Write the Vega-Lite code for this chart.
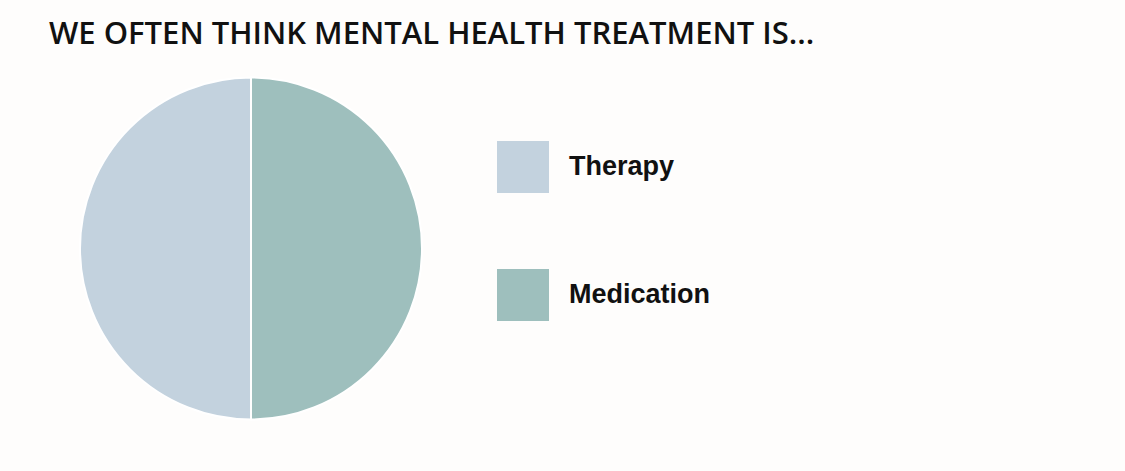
{
  "$schema": "https://vega.github.io/schema/vega-lite/v6.json",
  "autosize": "none",
  "width": 502,
  "height": 351,
  "padding": {"left": 0, "top": 73, "right": 623, "bottom": 47},
  "background": "#fefdfc",
  "title": {
    "text": "WE OFTEN THINK MENTAL HEALTH TREATMENT IS...",
    "anchor": "start",
    "frame": "group",
    "orient": "top",
    "dx": 49,
    "dy": 31,
    "offset": 29,
    "baseline": "alphabetic",
    "font": "Open Sans",
    "fontSize": 31,
    "fontWeight": 600,
    "color": "#111111"
  },
  "data": {
    "values": [
      {"category": "Therapy", "value": 50},
      {"category": "Medication", "value": 50}
    ]
  },
  "mark": {"type": "arc", "outerRadius": 171, "stroke": "#ffffff", "strokeWidth": 2},
  "encoding": {
    "theta": {"field": "value", "type": "quantitative", "stack": true},
    "order": {"field": "category", "sort": "ascending"},
    "color": {
      "field": "category",
      "type": "nominal",
      "scale": {"domain": ["Therapy", "Medication"], "range": ["#c3d2de", "#9ebfbd"]},
      "legend": {
        "title": null,
        "orient": "none",
        "legendX": 497,
        "legendY": 68,
        "padding": 0,
        "symbolType": "square",
        "symbolSize": 2704,
        "symbolStrokeWidth": 0,
        "symbolOpacity": 1,
        "labelFont": "Liberation Sans",
        "labelFontSize": 27,
        "labelFontWeight": "bold",
        "labelColor": "#111111",
        "labelOffset": 20,
        "labelLimit": 400,
        "rowPadding": 76
      }
    }
  },
  "config": {"view": {"stroke": null}}
}
